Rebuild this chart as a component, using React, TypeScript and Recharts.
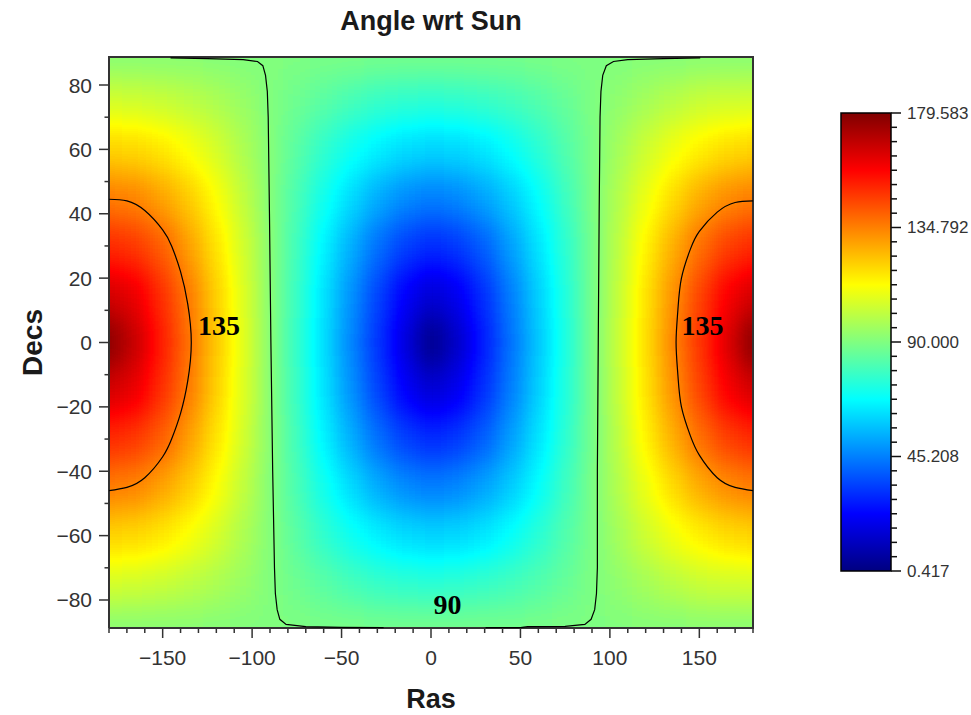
import React from 'react';
import { ScatterChart, Scatter, XAxis, YAxis, ReferenceArea } from 'recharts';

// grid nodes of the angle field (deg)
const ras = [-180, -165, -150, -135, -120, -105, -90, -75, -60, -45, -30, -15, 0, 15, 30, 45, 60, 75, 90, 105, 120, 135, 150, 165, 180];
const decs = [88, 75, 60, 45, 30, 15, 0, -15, -30, -45, -60, -75, -88];
const angles = [
  [92.0, 92.0, 91.8, 91.5, 91.1, 90.6, 90.1, 89.5, 89.1, 88.6, 88.3, 88.1, 88.0, 88.1, 88.2, 88.5, 88.9, 89.4, 89.9, 90.5, 90.9, 91.4, 91.7, 91.9, 92.0],
  [105.0, 104.6, 103.2, 100.9, 97.9, 94.3, 90.5, 86.7, 83.0, 79.8, 77.3, 75.7, 75.0, 75.4, 76.8, 79.1, 82.1, 85.7, 89.5, 93.3, 97.0, 100.2, 102.7, 104.3, 105.0],
  [120.0, 119.2, 116.2, 111.5, 105.4, 98.4, 91.0, 83.5, 76.4, 70.1, 64.9, 61.4, 60.0, 60.8, 63.8, 68.6, 74.6, 81.6, 89.0, 96.5, 103.6, 109.9, 115.1, 118.6, 120.0],
  [135.0, 133.6, 128.6, 121.1, 112.0, 101.9, 91.4, 80.8, 70.6, 61.2, 53.2, 47.5, 45.0, 46.5, 51.4, 58.9, 68.0, 78.1, 88.6, 99.2, 109.4, 118.8, 126.8, 132.6, 135.0],
  [150.0, 147.5, 139.9, 129.3, 117.3, 104.7, 91.7, 78.8, 66.0, 53.8, 42.7, 34.1, 30.1, 32.5, 40.1, 50.7, 62.7, 75.3, 88.3, 101.2, 114.0, 126.2, 137.3, 145.9, 150.0],
  [164.9, 160.3, 148.5, 135.0, 120.8, 106.4, 91.9, 77.5, 63.0, 48.8, 35.0, 22.5, 15.1, 19.8, 31.5, 45.1, 59.2, 73.6, 88.1, 102.6, 117.0, 131.2, 145.0, 157.5, 164.9],
  [178.0, 167.0, 152.0, 137.0, 122.0, 107.0, 92.0, 77.0, 62.0, 47.0, 32.0, 17.0, 2.0, 13.0, 28.0, 43.0, 58.0, 73.0, 88.0, 103.0, 118.0, 133.0, 148.0, 163.0, 178.0],
  [164.9, 160.3, 148.5, 135.0, 120.8, 106.4, 91.9, 77.5, 63.0, 48.8, 35.0, 22.5, 15.1, 19.8, 31.5, 45.1, 59.2, 73.6, 88.1, 102.6, 117.0, 131.2, 145.0, 157.5, 164.9],
  [150.0, 147.5, 139.9, 129.3, 117.3, 104.7, 91.7, 78.8, 66.0, 53.8, 42.7, 34.1, 30.1, 32.5, 40.1, 50.7, 62.7, 75.3, 88.3, 101.2, 114.0, 126.2, 137.3, 145.9, 150.0],
  [135.0, 133.6, 128.6, 121.1, 112.0, 101.9, 91.4, 80.8, 70.6, 61.2, 53.2, 47.5, 45.0, 46.5, 51.4, 58.9, 68.0, 78.1, 88.6, 99.2, 109.4, 118.8, 126.8, 132.6, 135.0],
  [120.0, 119.2, 116.2, 111.5, 105.4, 98.4, 91.0, 83.5, 76.4, 70.1, 64.9, 61.4, 60.0, 60.8, 63.8, 68.6, 74.6, 81.6, 89.0, 96.5, 103.6, 109.9, 115.1, 118.6, 120.0],
  [105.0, 104.6, 103.2, 100.9, 97.9, 94.3, 90.5, 86.7, 83.0, 79.8, 77.3, 75.7, 75.0, 75.4, 76.8, 79.1, 82.1, 85.7, 89.5, 93.3, 97.0, 100.2, 102.7, 104.3, 105.0],
  [92.0, 92.0, 91.8, 91.5, 91.1, 90.6, 90.1, 89.5, 89.1, 88.6, 88.3, 88.1, 88.0, 88.1, 88.2, 88.5, 88.9, 89.4, 89.9, 90.5, 90.9, 91.4, 91.7, 91.9, 92.0],
];

const raMajor = [-150, -100, -50, 0, 50, 100, 150];
const raMinor = [-180, -170, -160, -140, -130, -120, -110, -90, -80, -70, -60, -40, -30, -20, -10, 10, 20, 30, 40, 60, 70, 80, 90, 110, 120, 130, 140, 160, 170, 180];
const decMajor = [-80, -60, -40, -20, 0, 20, 40, 60, 80];
const decMinor = [-70, -50, -30, -10, 10, 30, 50, 70];
const barMajor = [0.417, 45.208, 90.0, 134.792, 179.583];

// contour lines (ra, dec)
const contour135Left = [
  { ra: -180, dec: 44.5 }, { ra: -170, dec: 44 }, { ra: -160, dec: 41 }, { ra: -150, dec: 35 }, { ra: -145, dec: 30 },
  { ra: -140, dec: 22 }, { ra: -136, dec: 12 }, { ra: -134, dec: 0 }, { ra: -136, dec: -12 }, { ra: -140, dec: -22 },
  { ra: -145, dec: -30 }, { ra: -150, dec: -35.5 }, { ra: -160, dec: -42 }, { ra: -170, dec: -45 }, { ra: -180, dec: -46 },
];
const contour135Right = [
  { ra: 180, dec: 44 }, { ra: 170, dec: 43.5 }, { ra: 160, dec: 40.5 }, { ra: 150, dec: 34.5 }, { ra: 145, dec: 29 },
  { ra: 140, dec: 20 }, { ra: 138, dec: 10 }, { ra: 137, dec: 0 }, { ra: 138, dec: -10 }, { ra: 140, dec: -20 },
  { ra: 145, dec: -29 }, { ra: 150, dec: -35 }, { ra: 160, dec: -42 }, { ra: 170, dec: -45 }, { ra: 180, dec: -46 },
];
const contour90Left = [
  { ra: -145.6, dec: 88.4 }, { ra: -125, dec: 88.2 }, { ra: -105, dec: 87.9 }, { ra: -97, dec: 87.3 }, { ra: -94, dec: 86 },
  { ra: -92.5, dec: 83 }, { ra: -91.5, dec: 78 }, { ra: -91, dec: 70 }, { ra: -90.3, dec: 40 }, { ra: -89.5, dec: 0 },
  { ra: -88.5, dec: -40 }, { ra: -87.5, dec: -70 }, { ra: -87, dec: -78 }, { ra: -86, dec: -83 }, { ra: -84.5, dec: -86 },
  { ra: -81, dec: -87.6 }, { ra: -70, dec: -88.3 }, { ra: -50, dec: -88.5 }, { ra: -26.5, dec: -88.6 },
];
const contour90Right = [
  { ra: 150.5, dec: 88.4 }, { ra: 130, dec: 88.2 }, { ra: 110, dec: 87.9 }, { ra: 102, dec: 87.3 }, { ra: 98, dec: 86 },
  { ra: 96, dec: 83 }, { ra: 95, dec: 78 }, { ra: 94.5, dec: 70 }, { ra: 94, dec: 40 }, { ra: 93.5, dec: 0 },
  { ra: 93, dec: -40 }, { ra: 93, dec: -70 }, { ra: 92.5, dec: -78 }, { ra: 91.5, dec: -83 }, { ra: 89.5, dec: -86 },
  { ra: 86, dec: -87.6 }, { ra: 75, dec: -88.2 }, { ra: 54, dec: -88.3 }, { ra: 50, dec: -88.6 }, { ra: 30.5, dec: -88.6 },
];
const contourLabels = [
  { ra: -118.5, dec: 5.4, text: '135' },
  { ra: 151.8, dec: 5.4, text: '135' },
  { ra: 9.2, dec: -81.5, text: '90' },
];

const RA_DOMAIN: [number, number] = [-180, 180];
const DEC_DOMAIN: [number, number] = [-88.7, 88.7];
const V_MIN = 0.417;
const V_MAX = 179.583;

const PLOT = { left: 109, top: 57, width: 644, height: 571 };
const KX = PLOT.width / (RA_DOMAIN[1] - RA_DOMAIN[0]);
const KY = PLOT.height / (DEC_DOMAIN[1] - DEC_DOMAIN[0]);
const FONT = "'Liberation Sans', Arial, sans-serif";

// jet colormap, evenly spaced stops t = 0 .. 1
const JET: [number, number, number][] = [
  [0, 0, 0.5], [0, 0, 1], [0, 0.5, 1], [0, 1, 1], [0.5, 1, 0.5],
  [1, 1, 0], [1, 0.5, 0], [1, 0, 0], [0.5, 0, 0],
];
const jetRgb = (c: number[]) => `rgb(${c.map((v) => Math.round(v * 255)).join(',')})`;

const heatCells = decs.flatMap((dec, j) => ras.map((ra, i) => ({ ra, dec, v: angles[j][i], i, j })));
const frame = [
  { ra: RA_DOMAIN[0], dec: DEC_DOMAIN[0] }, { ra: RA_DOMAIN[1], dec: DEC_DOMAIN[0] },
  { ra: RA_DOMAIN[1], dec: DEC_DOMAIN[1] }, { ra: RA_DOMAIN[0], dec: DEC_DOMAIN[1] },
  { ra: RA_DOMAIN[0], dec: DEC_DOMAIN[0] },
];

const barTicks: number[] = [];
barMajor.forEach((m, k) => {
  barTicks.push(m);
  if (k < barMajor.length - 1) {
    const step = (barMajor[k + 1] - m) / 8;
    for (let s = 1; s < 8; s++) barTicks.push(+(m + s * step).toFixed(4));
  }
});
const barEnds = [{ x: 0.5, v: V_MIN }, { x: 0.5, v: V_MAX }];

const fmt = (v: number) => (v < 0 ? '\u2212' + Math.abs(v) : String(v));

function HeatCell(props: any) {
  const { cx, cy, payload } = props;
  const { ra, dec, v, i, j } = payload;
  const pad = 20;
  const lo = i === 0 ? ra - pad : (ras[i - 1] + ra) / 2;
  const hi = i === ras.length - 1 ? ra + pad : (ra + ras[i + 1]) / 2;
  const top = j === 0 ? dec + pad : (decs[j - 1] + dec) / 2;
  const bot = j === decs.length - 1 ? dec - pad : (dec + decs[j + 1]) / 2;
  const t = Math.min(1, Math.max(0, (v - V_MIN) / (V_MAX - V_MIN)));
  const g = Math.round(t * 255);
  return (
    <rect
      x={cx + (lo - ra) * KX}
      y={cy - (top - dec) * KY}
      width={(hi - lo) * KX + 0.5}
      height={(top - bot) * KY + 0.5}
      fill={`rgb(${g},${g},${g})`}
      shapeRendering="crispEdges"
    />
  );
}

const EmptyShape = () => <g />;

function ContourLabel(props: any) {
  const { cx, cy, payload } = props;
  return (
    <text x={cx} y={cy} textAnchor="middle" dominantBaseline="central" fontFamily="'Liberation Serif', 'Times New Roman', serif" fontWeight="bold" fontSize={28} fill="#000">
      {payload.text}
    </text>
  );
}

function RaTick(props: any) {
  const { x, y, payload } = props;
  const major = raMajor.includes(payload.value);
  return (
    <g>
      <line x1={x} y1={y} x2={x} y2={y + (major ? 10 : 5)} stroke="#333" strokeWidth={1.5} />
      {major && (
        <text x={x} y={y + 37} textAnchor="middle" fontSize={21} fontFamily={FONT} fill="#333">
          {fmt(payload.value)}
        </text>
      )}
    </g>
  );
}

function DecTick(props: any) {
  const { x, y, payload } = props;
  const major = decMajor.includes(payload.value);
  return (
    <g>
      <line x1={x - (major ? 10 : 4.5)} y1={y} x2={x} y2={y} stroke="#333" strokeWidth={1.5} />
      {major && (
        <text x={x - 17} y={y} textAnchor="end" dominantBaseline="central" fontSize={21} fontFamily={FONT} fill="#333">
          {fmt(payload.value)}
        </text>
      )}
    </g>
  );
}

function BarTick(props: any) {
  const { x, y, payload } = props;
  const major = barMajor.some((m) => Math.abs(m - payload.value) < 1e-6);
  return (
    <g>
      <line x1={x} y1={y} x2={x + (major ? 10 : 6)} y2={y} stroke="#111" strokeWidth={1.5} />
      {major && (
        <text x={x + 16} y={y} dominantBaseline="central" fontSize={17} fontFamily={FONT} fill="#333">
          {payload.value.toFixed(3)}
        </text>
      )}
    </g>
  );
}

export default function App() {
  const raTicks = [...raMajor, ...raMinor].sort((a, b) => a - b);
  const decTicks = [...decMajor, ...decMinor].sort((a, b) => a - b);
  return (
    <div style={{ position: 'absolute', left: 0, top: 0, width: 971, height: 715, background: '#fff', fontFamily: FONT }}>
      <style>{`.heat-layer { filter: url(#heatSmooth); }`}</style>
      <div style={{ position: 'absolute', left: 0, top: 0 }}>
        <ScatterChart width={800} height={715} margin={{ top: 57, right: 47, bottom: 0, left: 0 }}>
          <XAxis type="number" dataKey="ra" domain={RA_DOMAIN} ticks={raTicks} interval={0} height={87}
            tickSize={0} tickMargin={0} axisLine={false} tickLine={false} tick={<RaTick />} />
          <YAxis type="number" dataKey="dec" domain={DEC_DOMAIN} ticks={decTicks} interval={0} width={109}
            tickSize={0} tickMargin={0} axisLine={false} tickLine={false} tick={<DecTick />} />
          <Scatter className="heat-layer" data={heatCells} shape={HeatCell} isAnimationActive={false} />
          <Scatter data={frame} line={{ stroke: '#333', strokeWidth: 2 }} lineJointType="linear" shape={EmptyShape} isAnimationActive={false} />
          <Scatter data={contour135Left} line={{ stroke: '#000', strokeWidth: 1.2 }} lineJointType="natural" shape={EmptyShape} isAnimationActive={false} />
          <Scatter data={contour135Right} line={{ stroke: '#000', strokeWidth: 1.2 }} lineJointType="natural" shape={EmptyShape} isAnimationActive={false} />
          <Scatter data={contour90Left} line={{ stroke: '#000', strokeWidth: 1.2 }} lineJointType="linear" shape={EmptyShape} isAnimationActive={false} />
          <Scatter data={contour90Right} line={{ stroke: '#000', strokeWidth: 1.2 }} lineJointType="linear" shape={EmptyShape} isAnimationActive={false} />
          <Scatter data={contourLabels} shape={ContourLabel} isAnimationActive={false} />
        </ScatterChart>
      </div>
      <div style={{ position: 'absolute', left: 800, top: 0 }}>
        <ScatterChart width={171} height={715} margin={{ top: 113, right: 0, bottom: 144, left: 41 }}>
          <XAxis type="number" dataKey="x" domain={[0, 1]} hide />
          <YAxis type="number" dataKey="v" orientation="right" width={80} domain={[V_MIN, V_MAX]} ticks={barTicks} interval={0}
            tickSize={0} tickMargin={0} axisLine={false} tickLine={false} tick={<BarTick />} />
          <ReferenceArea x1={0} x2={1} y1={V_MIN} y2={V_MAX} fill="url(#jetBar)" fillOpacity={1} stroke="#000" strokeWidth={1.5} />
          <Scatter data={barEnds} shape={EmptyShape} isAnimationActive={false} />
        </ScatterChart>
      </div>
      <svg width={971} height={715} style={{ position: 'absolute', left: 0, top: 0, pointerEvents: 'none' }}>
        <defs>
          <filter id="heatSmooth" filterUnits="userSpaceOnUse" x={PLOT.left} y={PLOT.top} width={PLOT.width} height={PLOT.height}
            colorInterpolationFilters="sRGB">
            <feGaussianBlur stdDeviation="10 16" />
            <feComponentTransfer>
              <feFuncR type="table" tableValues={JET.map((c) => c[0]).join(' ')} />
              <feFuncG type="table" tableValues={JET.map((c) => c[1]).join(' ')} />
              <feFuncB type="table" tableValues={JET.map((c) => c[2]).join(' ')} />
              <feFuncA type="linear" slope={0} intercept={1} />
            </feComponentTransfer>
          </filter>
          <linearGradient id="jetBar" x1="0" y1="0" x2="0" y2="1">
            {JET.slice().reverse().map((c, k) => (
              <stop key={k} offset={k / (JET.length - 1)} stopColor={jetRgb(c)} />
            ))}
          </linearGradient>
        </defs>
        <text x={431} y={29.5} textAnchor="middle" fontSize={27} fontWeight="bold" fill="#1a1a1a" fontFamily={FONT}>Angle wrt Sun</text>
        <text x={431} y={708} textAnchor="middle" fontSize={27} fontWeight="bold" fill="#1a1a1a" fontFamily={FONT}>Ras</text>
        <text transform="translate(42,342.5) rotate(-90)" textAnchor="middle" fontSize={28} fontWeight="bold" fill="#1a1a1a" fontFamily={FONT}>Decs</text>
      </svg>
    </div>
  );
}
